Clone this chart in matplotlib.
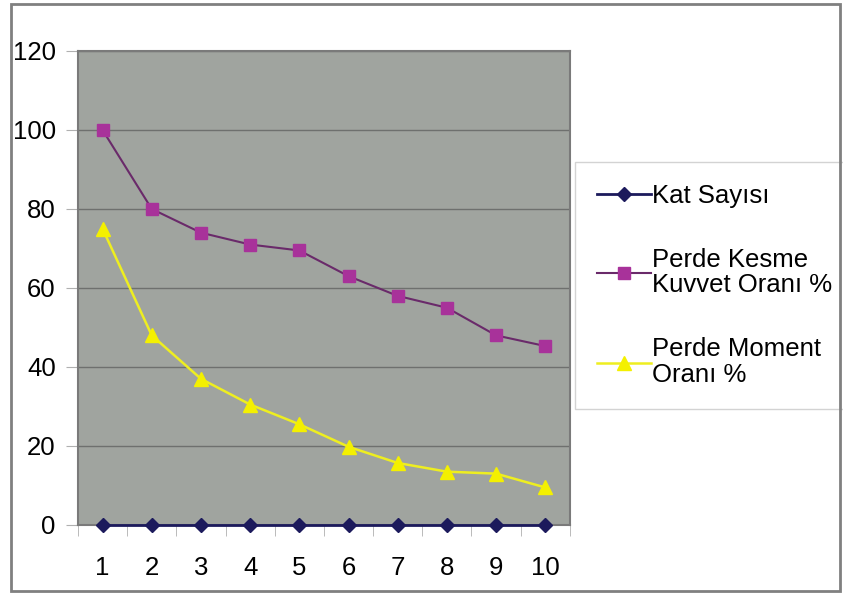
import matplotlib
matplotlib.use("Agg")
import matplotlib.pyplot as plt
from matplotlib.patches import Rectangle

# ── Data ──────────────────────────────────────────────────────────────────────
katlar = [1, 2, 3, 4, 5, 6, 7, 8, 9, 10]
kat_sayisi = [0, 0, 0, 0, 0, 0, 0, 0, 0, 0]
kesme_orani = [100, 80, 74, 71, 69.5, 63, 58, 55, 48, 45.3]
moment_orani = [75, 48, 37, 30.5, 25.5, 19.8, 15.7, 13.5, 13, 9.5]

y_ticks = [0, 20, 40, 60, 80, 100, 120]

plt.rcParams["font.family"] = ["Liberation Sans", "DejaVu Sans"]

# ── Plot ──────────────────────────────────────────────────────────────────────
fig = plt.figure(figsize=(8.43, 5.93), dpi=100)
ax = fig.add_axes([0.0925, 0.1147, 0.5835, 0.7993])
ax.set_facecolor("#a0a49f")

ax.plot(katlar, kat_sayisi, color="#1c1a5c", marker="D", markersize=7,
        linewidth=2, label="Kat Sayısı", clip_on=False, zorder=5)
ax.plot(katlar, kesme_orani, color="#6a2a6a", marker="s", markersize=8,
        markerfacecolor="#a8329a", markeredgecolor="#a8329a",
        linewidth=1.5, label="Perde Kesme\nKuvvet Oranı %", zorder=4)
ax.plot(katlar, moment_orani, color="#eeee20", marker="^", markersize=10,
        markerfacecolor="#f4f000", markeredgecolor="#f4f000",
        linewidth=1.8, label="Perde Moment\nOranı %", zorder=4)

ax.set_xlim(0.5, 10.5)
ax.set_ylim(0, 120)
ax.set_yticks(y_ticks)
ax.set_xticks(katlar)
ax.set_xticks([k + 0.5 for k in katlar[:-1]] + [0.5, 10.5], minor=True)
ax.tick_params(axis="x", which="major", length=0, pad=22, labelsize=18.5)
ax.tick_params(axis="x", which="minor", length=8, color="#b0b0b0", direction="out")
ax.tick_params(axis="y", length=9, color="#b0b0b0", pad=7, labelsize=18.5)

ax.grid(axis="y", color="#6e706e", linewidth=1)
ax.set_axisbelow(True)
for s in ax.spines.values():
    s.set_color("#7a7a7a")
    s.set_linewidth(1.5)

leg = ax.legend(loc="upper left", bbox_to_anchor=(0.682, 0.727), bbox_transform=fig.transFigure,
                fontsize=18.5, frameon=True, fancybox=False, borderpad=0.85,
                handlelength=2.1, handletextpad=0.05, labelspacing=1.55, borderaxespad=0)
leg.get_frame().set_edgecolor("#c8c8c8")
leg.get_frame().set_linewidth(1)
for t in leg.get_texts():
    t.set_linespacing(1.1)

# outer chart border
fig.patches.append(Rectangle((0.013, 0.004), 0.984, 0.99, transform=fig.transFigure,
                             fill=False, edgecolor="#808080", linewidth=2))

fig.savefig("out.png", dpi=100)
